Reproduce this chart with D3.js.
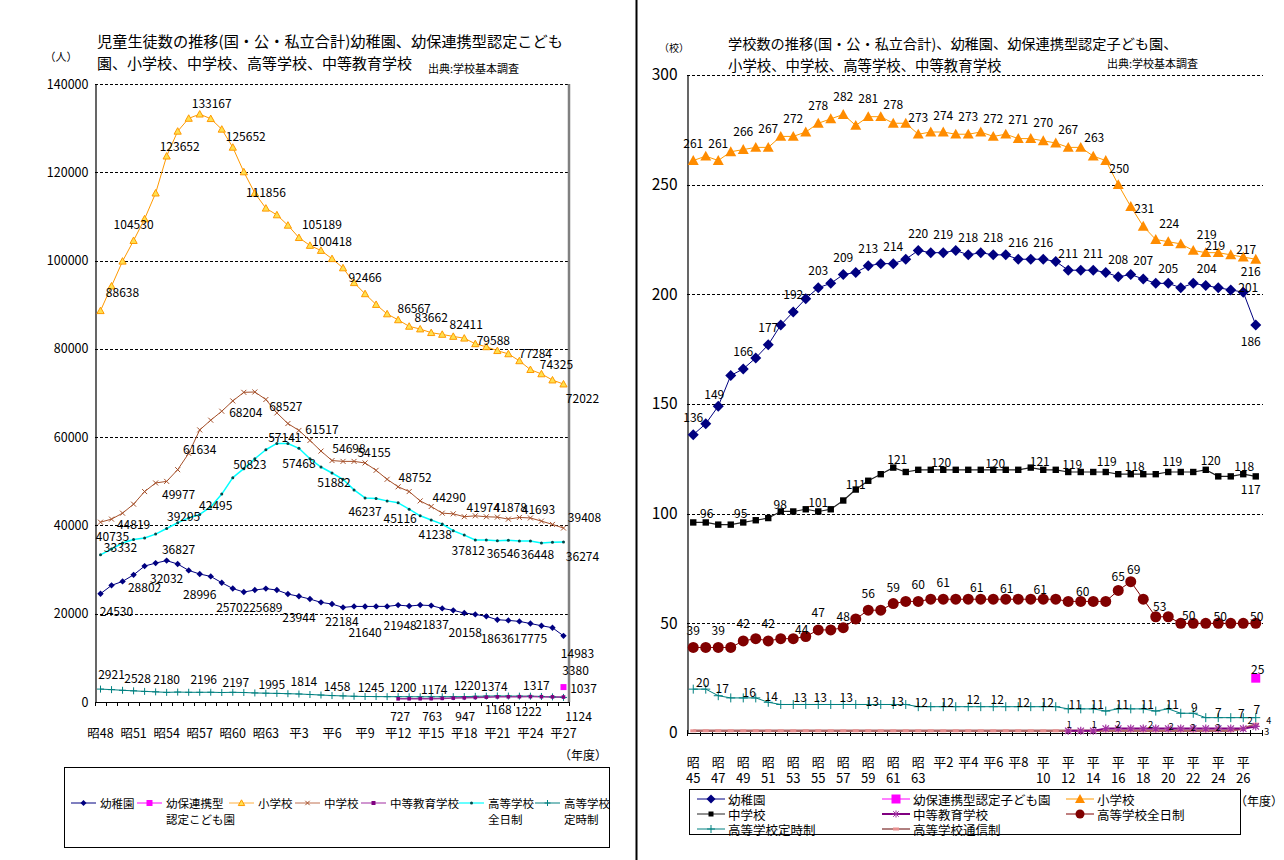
<!DOCTYPE html>
<html lang="ja"><head><meta charset="utf-8">
<script src="https://cdn.jsdelivr.net/npm/d3@7/dist/d3.min.js"></script>
<style>
html,body{margin:0;padding:0;background:#fff;}
svg{display:block;}
</style></head><body>
<svg id="chart" width="1284" height="860"></svg>
<script>
// ================= LEFT CHART DATA : 児童生徒数 =================
const leftCategories = ["昭48","昭49","昭50","昭51","昭52","昭53","昭54","昭55","昭56","昭57","昭58","昭59","昭60","昭61","昭62","昭63",
  "平1","平2","平3","平4","平5","平6","平7","平8","平9","平10","平11","平12","平13","平14","平15","平16","平17","平18","平19","平20",
  "平21","平22","平23","平24","平25","平26","平27"];
const leftTickLabels = ["昭48","昭51","昭54","昭57","昭60","昭63","平3","平6","平9","平12","平15","平18","平21","平24","平27"];
const leftYTicks = [0,20000,40000,60000,80000,100000,120000,140000];

const leftKinder = [24530,26420,27320,28802,30790,31470,32032,31250,29810,28996,28450,27020,25702,24910,25360,25689,25360,24450,23944,23320,
  22570,22184,21430,21660,21640,21660,21660,21948,21740,21960,21837,21200,20760,20158,19850,19400,18636,18490,18260,17775,17280,16830,14983];
const leftKodomoen = [null,null,null,null,null,null,null,null,null,null,null,null,null,null,null,null,null,null,null,null,
  null,null,null,null,null,null,null,null,null,null,null,null,null,null,null,null,null,null,null,null,null,null,3380];
const leftElem = [88638,94220,99850,104530,109430,115280,123652,129290,132210,133167,132140,129740,125652,120080,115280,111856,110340,107990,105189,103420,
  102280,100418,98330,94980,92466,90040,87910,86567,85100,84490,83662,83270,82810,82411,81140,80460,79588,78860,77284,75290,74325,72930,72022];
const leftJunior = [40735,41430,42780,44819,47670,49620,49977,52630,56320,61634,63840,65870,68204,70150,70230,68527,65490,63080,61517,59250,
  56840,54698,54510,54510,54155,52480,50450,48752,47670,45560,44290,42780,42630,41974,42180,41960,41878,41430,41810,41693,40980,40230,39408];
const leftSecondary = [null,null,null,null,null,null,null,null,null,null,null,null,null,null,null,null,null,null,null,null,
  null,null,null,null,null,null,null,727,740,750,763,820,880,947,1020,1100,1168,1190,1210,1222,1200,1160,1124];
const leftHighFull = [33332,34660,36010,36827,37140,38040,39295,40600,41700,42495,44200,47100,50823,52860,55100,57141,58570,58570,57468,55110,
  53230,51882,50450,48050,46237,46090,45560,45116,43680,42180,41238,40300,38800,37812,36690,36690,36546,36620,36470,36448,36020,36170,36274];
const leftHighPart = [2921,2800,2650,2528,2400,2300,2180,2250,2200,2196,2210,2150,2197,2150,2050,1995,1950,1880,1814,1700,
  1580,1458,1380,1300,1245,1230,1210,1200,1190,1180,1174,1190,1205,1220,1280,1330,1374,1350,1330,1317,1250,1150,1037];

// label placement (index, dx, dy) – layout only
const leftKinderLabelPos = [[0,16,17],[3,11,12],[6,0,17],[9,0,19],[12,0,18],[15,0,18],[18,0,20],[21,10,16],[24,0,25],[27,2,19],[30,1,18],[33,1,18],[36,0,18],[39,0,14],[42,14,17]];
const leftKodomoenLabelPos = [[42,12,-18]];
const leftElemLabelPos = [[0,22,-19],[3,0,-17],[6,13,-11],[9,12,-12],[12,13,-12],[15,0,-17],[18,23,-14],[21,0,-18],[24,0,-17],[27,16,-12],[30,0,-16],[33,2,-15],[36,-4,-11],[38,16,-8],[40,15,-10],[42,19,13]];
const leftJuniorLabelPos = [[0,12,13],[3,0,19],[6,12,12],[9,0,19],[12,13,11],[15,20,6],[18,23,-2],[21,17,-13],[24,9,-11],[27,17,-10],[30,18,-10],[33,19,-10],[36,13,-11],[39,8,-9],[42,21,-12]];
const leftSecondaryLabelPos = [[27,2,17],[30,1,17],[33,1,18],[36,1,12],[39,-2,14],[42,15,18]];
const leftHighFullLabelPos = [[0,20,-8],[3,45,9],[6,17,-13],[9,16,-10],[12,17,-14],[15,19,-13],[18,0,14],[21,2,9],[24,0,13],[27,2,15],[30,4,14],[33,4,14],[36,6,12],[39,7,12],[42,19,14]];
const leftHighPartLabelPos = [[0,11,-16],[3,4,-13],[6,0,-14],[9,4,-14],[12,3,-11],[15,6,-10],[18,5,-13],[21,5,-10],[24,6,-10],[27,5,-10],[30,3,-8],[33,3,-12],[36,-3,-10],[39,6,-12],[42,20,-10]];

// ================= RIGHT CHART DATA : 学校数 =================
const rightCategories = ["昭45","昭46","昭47","昭48","昭49","昭50","昭51","昭52","昭53","昭54","昭55","昭56","昭57","昭58","昭59","昭60","昭61","昭62","昭63",
  "平1","平2","平3","平4","平5","平6","平7","平8","平9","平10","平11","平12","平13","平14","平15","平16","平17","平18","平19","平20",
  "平21","平22","平23","平24","平25","平26","平27"];
const rightTickCats = ["昭45","昭47","昭49","昭51","昭53","昭55","昭57","昭59","昭61","昭63","平2","平4","平6","平8","平10","平12","平14","平16","平18","平20","平22","平24","平26"];
const rightTickTop = ["昭","昭","昭","昭","昭","昭","昭","昭","昭","昭","平2","平4","平6","平8","平","平","平","平","平","平","平","平","平"];
const rightTickBottom = ["45","47","49","51","53","55","57","59","61","63","","","","","10","12","14","16","18","20","22","24","26"];
const rightYTicks = [0,50,100,150,200,250,300];

const rightKinder = [136,141,149,163,166,171,177,186,192,198,203,205,209,210,213,214,214,216,220,219,219,220,218,219,218,218,216,216,216,215,
  211,211,211,210,208,209,207,205,205,203,205,204,203,202,201,186];
const rightKodomoen = [null,null,null,null,null,null,null,null,null,null,null,null,null,null,null,null,null,null,null,null,null,null,null,
  null,null,null,null,null,null,null,null,null,null,null,null,null,null,null,null,null,null,null,null,null,null,25];
const rightElem = [261,263,261,265,266,267,267,272,272,274,278,280,282,277,281,281,278,278,273,274,274,273,273,274,272,273,271,271,270,269,
  267,267,263,261,250,240,231,225,224,223,220,219,219,218,217,216];
const rightJunior = [96,96,95,95,96,97,98,101,101,102,101,102,106,111,115,118,121,119,120,120,120,120,120,120,120,120,120,121,120,120,
  119,119,119,119,118,118,118,118,119,119,119,120,117,117,118,117];
const rightSecondary = [null,null,null,null,null,null,null,null,null,null,null,null,null,null,null,null,null,null,null,null,null,null,null,
  null,null,null,null,null,null,null,1,1,1,2,2,2,2,2,2,2,2,2,2,2,2,3];
const rightHighFull = [39,39,39,39,42,43,42,43,43,44,47,47,48,52,56,56,59,60,60,61,61,61,61,61,61,61,61,61,61,61,
  60,60,60,60,65,69,61,53,53,50,50,50,50,50,50,50];
const rightHighPart = [20,20,17,16,16,16,14,13,13,13,13,13,13,13,13,13,13,13,12,12,12,12,12,12,12,12,12,12,12,12,
  11,11,11,10,11,11,11,10,11,9,9,7,7,7,7,7];
const rightHighCorr = [1,1,1,1,1,1,1,1,1,1,1,1,1,1,1,1,1,1,1,1,1,1,1,1,1,1,1,1,1,1,1,1,1,1,1,1,1,1,1,1,1,1,1,1,2,4];

const rightKinderLabelPos = [[0,0,-18],[2,-4,-13],[4,0,-18],[6,0,-18],[8,0,-18],[10,0,-18],[12,0,-18],[14,0,-18],[16,0,-18],[18,0,-18],[20,0,-19],[22,0,-18],[24,0,-18],[26,0,-18],[28,0,-18],[30,0,-18],[32,0,-18],[34,0,-18],[36,0,-19],[38,0,-16],[41,1,-18],[44,5,-6],[45,-5,15]];
const rightKodomoenLabelPos = [[45,2,-10]];
const rightElemLabelPos = [[0,0,-18],[2,0,-18],[4,0,-19],[6,0,-20],[8,0,-19],[10,0,-19],[12,0,-19],[14,0,-19],[16,0,-20],[18,0,-18],[20,0,-18],[22,0,-19],[24,0,-19],[26,0,-20],[28,0,-19],[30,0,-19],[32,1,-20],[34,1,-17],[36,1,-19],[38,1,-19],[41,1,-19],[42,-3,-8],[44,3,-9],[45,-5,11]];
const rightJuniorLabelPos = [[1,1,-10],[3,10,-12],[6,12,-15],[10,0,-10],[13,0,-6],[16,4,-9],[20,-2,-8],[24,2,-7],[27,9,-7],[30,4,-8],[33,1,-11],[35,4,-9],[38,4,-11],[41,5,-10],[44,1,-9],[45,-5,12]];
const rightSecondaryLabelPos = [[30,1,-7],[32,1,-7],[34,0,-5],[37,-5,-5],[38,3,-3],[40,0,-2],[42,0,-2],[44,7,-9],[45,11,5]];
const rightHighFullLabelPos = [[0,0,-18],[2,0,-18],[4,0,-18],[6,0,-18],[9,-4,-8],[10,0,-18],[12,0,-12],[14,0,-18],[16,0,-17],[18,0,-18],[20,0,-18],[23,-4,-13],[25,1,-12],[28,-3,-11],[31,2,-11],[34,0,-15],[35,3,-13],[37,4,-11],[39,8,-9],[42,2,-8],[45,1,-8]];
const rightHighPartLabelPos = [[1,-3,-8],[2,4,-8],[4,6,-6],[6,3,-7],[8,7,-8],[10,2,-8],[12,3,-8],[14,4,-4],[16,4,-4],[18,3,-5],[20,4,-5],[22,5,-8],[24,4,-8],[26,5,-5],[28,4,-5],[30,7,-5],[32,4,-5],[34,4,-5],[36,4,-5],[38,4,-5],[40,1,-7],[42,0,-6],[44,-2,-5],[45,1,-9]];
const rightHighCorrLabelPos = [[45,13,-4]];

// ================= RENDERING =================
const FONT = "'Noto Sans CJK JP','Noto Sans',sans-serif";
const svg = d3.select("#chart");
svg.append("rect").attr("width",1284).attr("height",860).attr("fill","#fff");

function shapePath(shape, s) {
  switch (shape) {
    case "diamond": return `M0,${-s}L${s},0L0,${s}L${-s},0Z`;
    case "square": return `M${-s},${-s}h${2*s}v${2*s}h${-2*s}Z`;
    case "triangle": return `M0,${-s}L${s},${s*0.8}L${-s},${s*0.8}Z`;
    case "circle": return `M${-s},0a${s},${s} 0 1,0 ${2*s},0a${s},${s} 0 1,0 ${-2*s},0Z`;
    case "plus": return `M${-s},0H${s}M0,${-s}V${s}`;
    case "x": return `M${-s},${-s}L${s},${s}M${-s},${s}L${s},${-s}`;
    case "asterisk": { const k = s*0.8; return `M${-s},0H${s}M0,${-s}V${s}M${-k},${-k}L${k},${k}M${-k},${k}L${k},${-k}`; }
    case "dash": return `M${-s},0H${s}`;
  }
}

function drawMarker(g, m, x, y) {
  if (!m) return;
  g.append("path").attr("d", shapePath(m.shape, m.size)).attr("transform", `translate(${x},${y})`)
    .attr("fill", m.fill || "none").attr("stroke", m.stroke || "none").attr("stroke-width", m.sw || 1);
}

function drawPanel(p) {
  const g = svg.append("g");
  const x = d3.scaleBand().domain(p.categories).range([p.x0, p.x1]).paddingInner(0).paddingOuter(0);
  const cx = c => x(c) + x.bandwidth() / 2;
  const y = d3.scaleLinear().domain([0, p.yMax]).range([p.yBottom, p.yTop]);

  // gridlines
  g.append("g").selectAll("line").data(p.yTicks.filter(t => t > 0)).join("line")
    .attr("x1", p.x0).attr("x2", p.gridX1).attr("y1", d => Math.round(y(d)) + 0.5).attr("y2", d => Math.round(y(d)) + 0.5)
    .attr("stroke", "#000").attr("stroke-width", 1).attr("stroke-dasharray", "3,2");
  if (p.rightBorder) {
    g.append("line").attr("x1", p.x1).attr("x2", p.x1).attr("y1", p.yTop).attr("y2", p.yBottom)
      .attr("stroke", "#808080").attr("stroke-width", 2.5);
  }

  // y axis
  const ya = d3.axisLeft(y).tickValues(p.yTicks).tickSize(0).tickPadding(p.yPad).tickFormat(d3.format("d"));
  const yg = g.append("g").attr("transform", `translate(${p.x0 + 0.5},0)`).call(ya);
  yg.select(".domain").attr("stroke", "#000").attr("stroke-width", 1.2);
  yg.selectAll("text").attr("font-family", FONT).attr("font-size", p.yFont).attr("fill", "#000");

  // x axis line + boundary ticks
  g.append("line").attr("x1", p.x0).attr("x2", p.x1).attr("y1", p.yBottom + 0.5).attr("y2", p.yBottom + 0.5)
    .attr("stroke", "#000").attr("stroke-width", 1.2);
  const bounds = p.categories.map(c => x(c)).concat([p.x1]);
  g.append("g").selectAll("line").data(bounds).join("line")
    .attr("x1", d => Math.round(d) + 0.5).attr("x2", d => Math.round(d) + 0.5)
    .attr("y1", p.yBottom - p.tickUp).attr("y2", p.yBottom + p.tickDown)
    .attr("stroke", "#000").attr("stroke-width", 1);

  // x tick labels
  const xa = d3.axisBottom(x).tickValues(p.tickCats).tickSize(0).tickPadding(0);
  const xg = g.append("g").attr("transform", `translate(0,${p.xLabelY})`).call(xa);
  xg.select(".domain").remove();
  xg.selectAll("text").attr("font-family", FONT).attr("font-size", p.xFont).attr("fill", "#000")
    .attr("dy", "0.35em").attr("y", 0);
  if (p.tickTop) {
    xg.selectAll("text").each(function (d) {
      const i = p.tickCats.indexOf(d);
      const t = d3.select(this).text(null);
      t.append("tspan").attr("x", 0).attr("y", 0).attr("dy", "0.35em").text(p.tickTop[i]);
      if (p.tickBottom[i]) t.append("tspan").attr("x", 0).attr("y", p.xLine2).attr("dy", "0.35em").text(p.tickBottom[i]);
    });
  }

  // series lines
  p.series.forEach(s => {
    const pts = s.values.map((v, i) => ({ c: p.categories[i], v }));
    if (s.lineColor) {
      const line = d3.line().defined(d => d.v != null).x(d => cx(d.c)).y(d => y(d.v));
      g.append("path").datum(pts).attr("d", line).attr("fill", "none")
        .attr("stroke", s.lineColor).attr("stroke-width", s.lineWidth || 1).attr("stroke-linejoin", "round");
    }
  });
  // series markers
  p.series.forEach(s => {
    const mg = g.append("g");
    s.values.forEach((v, i) => { if (v != null) drawMarker(mg, s.marker, cx(p.categories[i]), y(v)); });
  });
  // data labels
  const lg = g.append("g");
  p.series.forEach(s => {
    (s.labels || []).forEach(([i, dx, dy]) => {
      const v = s.values[i];
      lg.append("text").attr("x", cx(p.categories[i]) + dx).attr("y", y(v) + dy)
        .attr("text-anchor", "middle").attr("dominant-baseline", "central")
        .attr("font-family", FONT).attr("font-size", s.labelFont || p.labelFont).attr("fill", "#000").text(v);
    });
  });
  return { x, y, cx };
}

// ----- left panel -----
drawPanel({
  categories: leftCategories, x0: 95, x1: 569, gridX1: 569, yTop: 84, yBottom: 702, yMax: 140000,
  yTicks: leftYTicks, yPad: 7, yFont: 12.5, rightBorder: true,
  tickCats: leftTickLabels, xLabelY: 734, xFont: 12.5, tickUp: 0, tickDown: 4, labelFont: 12,
  series: [
    { values: leftHighPart, lineColor: "#008080", marker: { shape: "plus", size: 3.5, stroke: "#008080" }, labels: leftHighPartLabelPos },
    { values: leftSecondary, lineColor: "#993399", lineWidth: 1.5, marker: { shape: "square", size: 1.8, fill: "#800080" }, labels: leftSecondaryLabelPos },
    { values: leftHighFull, lineColor: "#00FFFF", lineWidth: 1.5, marker: { shape: "circle", size: 1.5, fill: "#004848" }, labels: leftHighFullLabelPos },
    { values: leftJunior, lineColor: "#A5502A", marker: { shape: "x", size: 2.5, stroke: "#A5502A" }, labels: leftJuniorLabelPos },
    { values: leftElem, lineColor: "#FF9900", marker: { shape: "triangle", size: 3.6, fill: "#FFE050", stroke: "#FF9900" }, labels: leftElemLabelPos },
    { values: leftKinder, lineColor: "#000080", marker: { shape: "diamond", size: 3.2, fill: "#000080" }, labels: leftKinderLabelPos },
    { values: leftKodomoen, lineColor: "#FF00FF", marker: { shape: "square", size: 3, fill: "#FF00FF" }, labels: leftKodomoenLabelPos }
  ]
});

// ----- right panel -----
drawPanel({
  categories: rightCategories, x0: 687, x1: 1262, gridX1: 1263, yTop: 75, yBottom: 733, yMax: 300,
  yTicks: rightYTicks, yPad: 10, yFont: 15.5, rightBorder: false,
  tickCats: rightTickCats, tickTop: rightTickTop, tickBottom: rightTickBottom, xLabelY: 762, xLine2: 16, xFont: 13,
  tickUp: 3, tickDown: 3, labelFont: 12,
  series: [
    { values: rightHighCorr, lineColor: "#B06868", lineWidth: 2.5, marker: { shape: "dash", size: 3, stroke: "#E89090", sw: 3 }, labels: rightHighCorrLabelPos, labelFont: 9 },
    { values: rightSecondary, lineColor: "#800080", lineWidth: 2, marker: { shape: "asterisk", size: 4, stroke: "#A030A0", sw: 1.2 }, labels: rightSecondaryLabelPos, labelFont: 9.5 },
    { values: rightHighPart, lineColor: "#008080", marker: { shape: "plus", size: 4.5, stroke: "#008080" }, labels: rightHighPartLabelPos },
    { values: rightHighFull, lineColor: "#800000", marker: { shape: "circle", size: 5.5, fill: "#800000" }, labels: rightHighFullLabelPos },
    { values: rightJunior, lineColor: "#222", lineWidth: 1.2, marker: { shape: "square", size: 3.2, fill: "#000" }, labels: rightJuniorLabelPos },
    { values: rightKinder, lineColor: "#000080", marker: { shape: "diamond", size: 5.5, fill: "#000080" }, labels: rightKinderLabelPos },
    { values: rightElem, lineColor: "#FF9900", marker: { shape: "triangle", size: 5.5, fill: "#FF8C00" }, labels: rightElemLabelPos },
    { values: rightKodomoen, lineColor: "#FF00FF", marker: { shape: "square", size: 4.5, fill: "#FF00FF" }, labels: rightKodomoenLabelPos }
  ]
});

// ----- texts -----
function txt(x, y, s, size, anchor, weight) {
  svg.append("text").attr("x", x).attr("y", y).attr("font-family", FONT).attr("font-size", size)
    .attr("text-anchor", anchor || "start").attr("dominant-baseline", "central").attr("fill", "#000")
    .attr("font-weight", weight || "normal").text(s);
}
txt(97, 40, "児童生徒数の推移(国・公・私立合計)幼稚園、幼保連携型認定こども", 15.2);
txt(97, 62, "園、小学校、中学校、高等学校、中等教育学校", 15);
txt(428, 68, "出典:学校基本調査", 11);
txt(61, 56, "（人）", 11, "middle");
txt(583, 754, "（年度）", 12, "middle");

txt(728, 43, "学校数の推移(国・公・私立合計)、幼稚園、幼保連携型認定子ども園、", 14.2);
txt(728, 64, "小学校、中学校、高等学校、中等教育学校", 14.4);
txt(1107, 63, "出典:学校基本調査", 11);
txt(674, 47, "（校）", 10, "middle");
txt(1259, 800, "（年度）", 12, "middle");

// separator
svg.append("line").attr("x1", 636.5).attr("x2", 636.5).attr("y1", 0).attr("y2", 860).attr("stroke", "#000").attr("stroke-width", 2);

// ----- legends -----
function legendSym(x, y, w, color, lw, m) {
  svg.append("line").attr("x1", x).attr("x2", x + w).attr("y1", y).attr("y2", y).attr("stroke", color).attr("stroke-width", lw);
  const g = svg.append("g");
  drawMarker(g, m, x + w / 2, y);
}
// left legend
svg.append("rect").attr("x", 64.5).attr("y", 767.5).attr("width", 545).attr("height", 80).attr("fill", "none").attr("stroke", "#000").attr("stroke-width", 1);
const leftLegendNames = [["幼稚園"], ["幼保連携型", "認定こども園"], ["小学校"], ["中学校"], ["中等教育学校"], ["高等学校", "全日制"], ["高等学校", "定時制"]];
const leftLegendStyle = [
  ["#000080", 1, { shape: "diamond", size: 3, fill: "#000080" }],
  ["#FF00FF", 1, { shape: "square", size: 3, fill: "#FF00FF" }],
  ["#FFB040", 1, { shape: "triangle", size: 3.2, fill: "#FFE050", stroke: "#FF9900" }],
  ["#C07050", 1, { shape: "x", size: 2.2, stroke: "#A5502A" }],
  ["#B050B0", 1.2, { shape: "square", size: 2, fill: "#800080" }],
  ["#00FFFF", 1.2, { shape: "circle", size: 1.5, fill: "#004848" }],
  ["#008080", 1, { shape: "plus", size: 3, stroke: "#008080" }]
];
const leftLegendSymX = [71, 137, 229, 295, 361, 459, 535];
leftLegendNames.forEach((nm, i) => {
  const st = leftLegendStyle[i];
  legendSym(leftLegendSymX[i], 803, 25, st[0], st[1], st[2]);
  nm.forEach((line, k) => txt(leftLegendSymX[i] + 29, 803 + k * 16, line, 11.5));
});
// right legend
svg.append("rect").attr("x", 689.5).attr("y", 789.5).attr("width", 551).attr("height", 45).attr("fill", "none").attr("stroke", "#000").attr("stroke-width", 1);
const rightLegendNames = ["幼稚園", "幼保連携型認定子ども園", "小学校", "中学校", "中等教育学校", "高等学校全日制", "高等学校定時制", "高等学校通信制"];
const rightLegendStyle = [
  ["#000080", 1, { shape: "diamond", size: 4.5, fill: "#000080" }],
  ["#FF00FF", 1, { shape: "square", size: 4.5, fill: "#FF00FF" }],
  ["#FF9900", 1, { shape: "triangle", size: 5, fill: "#FF8C00" }],
  ["#222", 1, { shape: "square", size: 2.5, fill: "#000" }],
  ["#800080", 2, { shape: "asterisk", size: 3.5, stroke: "#A030A0" }],
  ["#800000", 1, { shape: "circle", size: 4.5, fill: "#800000" }],
  ["#008080", 1, { shape: "plus", size: 4, stroke: "#008080" }],
  ["#600000", 1, { shape: "dash", size: 3, stroke: "#E89090", sw: 3 }]
];
const rightLegendCol = [697, 882, 1066];
const rightLegendRow = [799, 814, 829];
rightLegendNames.forEach((nm, i) => {
  const c = i % 3, r = Math.floor(i / 3);
  const st = rightLegendStyle[i];
  legendSym(rightLegendCol[c], rightLegendRow[r], 28, st[0], st[1], st[2]);
  txt(rightLegendCol[c] + 31, rightLegendRow[r], nm, 12.5);
});
</script>
</body></html>
